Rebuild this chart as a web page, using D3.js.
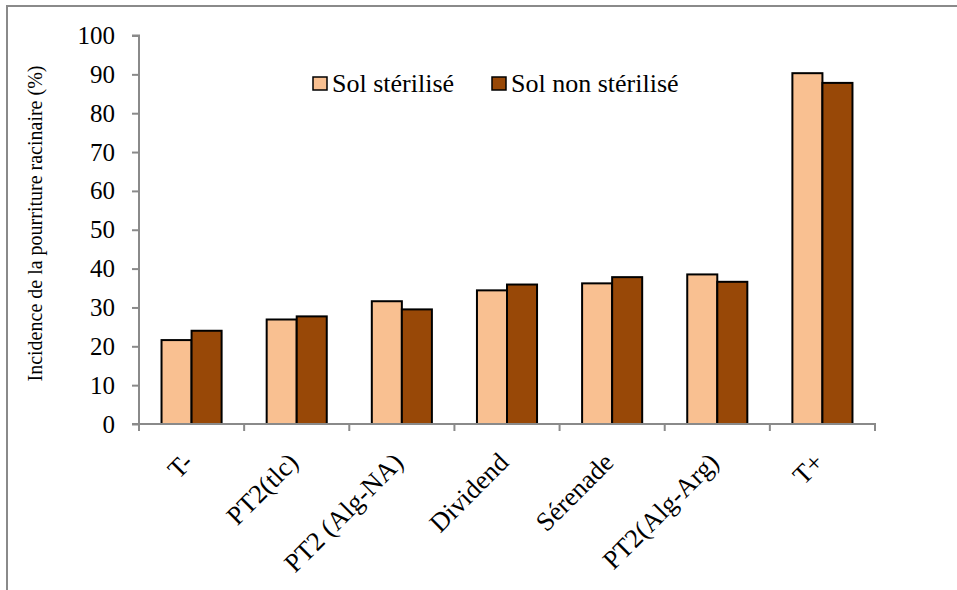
<!DOCTYPE html>
<html><head><meta charset="utf-8">
<script src="https://cdn.jsdelivr.net/npm/d3@7/dist/d3.min.js"></script>
<style>body{margin:0;background:#fff}svg{display:block}svg text{font-family:"Liberation Serif","Times New Roman",serif !important;fill:#000}</style>
</head><body>
<script>
const categories = ["T-","PT2(tlc)","PT2 (Alg-NA)","Dividend","Sérenade","PT2(Alg-Arg)","T+"];
const seriesNames = ["Sol stérilisé","Sol non stérilisé"];
const sterilise = [21.6,26.9,31.6,34.4,36.2,38.5,90.3];
const nonSterilise = [24.0,27.7,29.5,35.9,37.8,36.6,87.8];
const yTicks = [0,10,20,30,40,50,60,70,80,90,100];
const colors = ["#F9C091","#984807"];

const FONT='"Liberation Serif","Times New Roman",serif';
const W=957,H=590;
const svg=d3.select("body").append("svg").attr("width",W).attr("height",H).attr("font-family",FONT);
// outer frame
svg.append("rect").attr("x",7).attr("y",6).attr("width",W+20).attr("height",H+20)
  .attr("fill","none").attr("stroke","#8a8a8a").attr("stroke-width",2);

const pLeft=139,pRight=875,pTop=35.5,pBottom=424;
const x=d3.scaleBand().domain(categories).range([pLeft,pRight]).paddingInner(0).paddingOuter(0);
const y=d3.scaleLinear().domain([0,100]).range([pBottom,pTop]);
const groupW=60/105;
const xs=d3.scaleBand().domain(seriesNames).range([0,x.bandwidth()*groupW]);

const data=[sterilise,nonSterilise];
const g=svg.append("g");
seriesNames.forEach((s,si)=>{
  g.selectAll(".b"+si).data(categories).enter().append("rect")
   .attr("x",c=>x(c)+x.bandwidth()*(1-groupW)/2+xs(s))
   .attr("y",(c,i)=>y(data[si][i]))
   .attr("width",xs.bandwidth())
   .attr("height",(c,i)=>pBottom-y(data[si][i]))
   .attr("fill",colors[si]).attr("stroke","#000").attr("stroke-width",2);
});

// y axis
const ya=svg.append("g").attr("transform",`translate(${pLeft},0)`)
  .call(d3.axisLeft(y).tickValues(yTicks).tickSize(7).tickPadding(17).tickFormat(d3.format("d")));
ya.attr("font-family",FONT);
ya.select(".domain").attr("stroke","#8a8a8a").attr("stroke-width",2).attr("d",`M-7,${pTop}H0V${pBottom}`);
ya.selectAll(".tick line").attr("stroke","#8a8a8a").attr("stroke-width",2);
ya.selectAll(".tick text").attr("font-size",25).attr("font-family",FONT).attr("fill","#000");

// x axis
const xa=svg.append("g").attr("transform",`translate(0,${pBottom})`);
xa.append("line").attr("x1",pLeft-7).attr("x2",pRight+1).attr("y1",0).attr("y2",0).attr("stroke","#8a8a8a").attr("stroke-width",2);
const xt=[...categories.map(c=>x(c)),pRight];
xa.selectAll(".tk").data(xt).enter().append("line").attr("x1",d=>d).attr("x2",d=>d).attr("y1",0).attr("y2",7)
  .attr("stroke","#8a8a8a").attr("stroke-width",2);
xa.selectAll(".lbl").data(categories).enter().append("text")
  .attr("transform",c=>`translate(${x(c)+x.bandwidth()/2+3},${40}) rotate(-45)`)
  .attr("text-anchor","end").attr("font-size",26.5).attr("font-family",FONT).text(c=>c);

// y title
svg.append("text").attr("transform",`translate(42,223.5) rotate(-90)`).attr("text-anchor","middle")
  .attr("font-size",20).attr("font-family",FONT).text("Incidence de la pourriture racinaire (%)");

// legend
const lg=svg.append("g");
const lx=[313,492];
seriesNames.forEach((s,i)=>{
  lg.append("rect").attr("x",lx[i]).attr("y",77).attr("width",14).attr("height",13)
    .attr("fill",colors[i]).attr("stroke","#000").attr("stroke-width",1.5);
  lg.append("text").attr("x",lx[i]+19).attr("y",92).attr("font-size",26).attr("font-family",FONT).text(s);
});
</script>
</body></html>
